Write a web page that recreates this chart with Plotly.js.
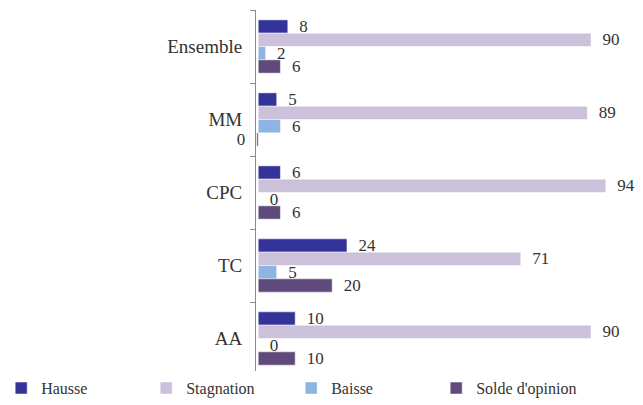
<!DOCTYPE html>
<html>
<head>
<meta charset="utf-8">
<script src="https://cdn.plot.ly/plotly-3.0.1.min.js"></script>
<style>html,body{margin:0;padding:0;background:#fff;}#chart{width:643px;height:405px;}</style>
</head>
<body>
<div id="chart"></div>
<script>
const categories = ["Ensemble", "MM", "CPC", "TC", "AA"];
const seriesNames = ["Hausse", "Stagnation", "Baisse", "Solde d'opinion"];
const hausse = [8, 5, 6, 24, 10];
const stagnation = [90, 89, 94, 71, 90];
const baisse = [2, 6, 0, 5, 0];
const solde = [6, -0.4, 6, 20, 10];
const colors = ["#333399", "#CCC1DA", "#8DB4E2", "#604A7B"];

const FONT = "'Liberation Serif', 'Times New Roman', serif";
const allValues = [hausse, stagnation, baisse, solde];
const NB = "\u00a0\u00a0";
function labelOf(v) {
  const s = String(Math.round(v)).replace("-0", "0");
  return v < 0 ? s + NB : NB + s;
}

const traces = allValues.map((vals, i) => ({
  type: "bar",
  orientation: "h",
  name: seriesNames[i],
  y: categories,
  x: vals,
  marker: { color: colors[i], line: { color: "#ffffff", width: 0.5 } },
  text: vals.map(labelOf),
  textposition: "outside",
  constraintext: "none",
  cliponaxis: false,
  textfont: { family: FONT, size: 17, color: "#333333" },
  hoverinfo: "none"
}));

const layout = {
  width: 643,
  height: 405,
  margin: { l: 256, r: 15, t: 10, b: 30, autoexpand: false },
  paper_bgcolor: "#ffffff",
  plot_bgcolor: "#ffffff",
  barmode: "group",
  bargap: 0.27,
  bargroupgap: 0,
  showlegend: true,
  font: { family: FONT, size: 17, color: "#333333" },
  xaxis: {
    range: [-0.6, 100],
    showgrid: false,
    zeroline: false,
    showline: false,
    showticklabels: false,
    ticks: ""
  },
  yaxis: {
    autorange: "reversed",
    type: "category",
    showgrid: false,
    zeroline: false,
    showline: true,
    linecolor: "#8c8c8c",
    linewidth: 1,
    ticks: "outside",
    tickson: "boundaries",
    ticklen: 5,
    tickcolor: "#8c8c8c",
    ticklabelstandoff: 9,
    tickfont: { family: FONT, size: 19, color: "#333333" }
  },
  legend: {
    orientation: "h",
    x: -0.685,
    xanchor: "left",
    y: -0.036,
    yanchor: "middle",
    entrywidth: 100,
    entrywidthmode: "pixels",
    traceorder: "normal",
    font: { family: FONT, size: 16, color: "#333333" }
  }
};

Plotly.newPlot("chart", traces, layout, { staticPlot: true, displayModeBar: false });
</script>
</body>
</html>
